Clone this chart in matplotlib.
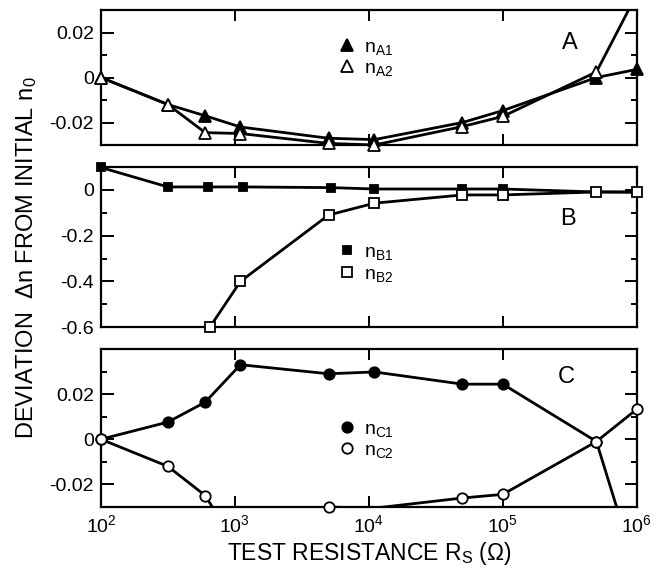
import numpy as np
import matplotlib.pyplot as plt
from matplotlib.ticker import FixedLocator, FixedFormatter, MultipleLocator, LogLocator, NullLocator

plt.rcParams['font.family'] = ['Liberation Sans', 'DejaVu Sans']
plt.rcParams['mathtext.fontset'] = 'custom'
plt.rcParams['mathtext.rm'] = 'Liberation Sans'
plt.rcParams['mathtext.it'] = 'Liberation Sans'

# test resistance values (ohm)
r_a = [100, 316, 600, 1100, 5000, 11000, 50000, 100000, 500000, 1000000]
r_b1 = [100, 316, 630, 1150, 5200, 11000, 50000, 100000, 500000, 1000000]
r_b2 = [650, 1100, 5000, 11000, 50000, 100000, 500000, 1000000]
r_c1 = [100, 316, 600, 1100, 5000, 11000, 50000, 100000, 500000, 1000000]
r_c2 = [100, 316, 600, 1100, 5000, 11000, 50000, 100000, 500000, 1000000]

# deviations from initial index
n_a1 = [0.0, -0.012, -0.017, -0.022, -0.027, -0.0276, -0.020, -0.0147, 0.0, 0.0036]
n_a2 = [0.0, -0.012, -0.0245, -0.0249, -0.0293, -0.030, -0.0218, -0.0173, 0.0025, 0.037]
n_b1 = [0.098, 0.013, 0.013, 0.013, 0.010, 0.004, 0.004, 0.004, -0.009, -0.009]
n_b2 = [-0.60, -0.40, -0.11, -0.058, -0.022, -0.022, -0.009, -0.010]
n_c1 = [0.0, 0.0076, 0.0164, 0.033, 0.029, 0.0298, 0.0244, 0.0244, -0.001, -0.059]
n_c2 = [0.0, -0.012, -0.0249, -0.050, -0.030, -0.0305, -0.026, -0.0244, -0.001, 0.0133]

fig = plt.figure(figsize=(6.64, 5.72), dpi=100)
L, W = 0.152, 0.807
ax_a = fig.add_axes([L, 0.7465, W, 0.236])
ax_b = fig.add_axes([L, 0.428, W, 0.280])
ax_c = fig.add_axes([L, 0.1136, W, 0.2764])


def series(ax, x, y, marker, filled, label, ylim, ms):
    x = np.asarray(x, float)
    y = np.asarray(y, float)
    ax.plot(x, y, color='black', lw=2.0, zorder=2)
    keep = (y >= ylim[0] - 1e-9) & (y <= ylim[1] + 1e-9)
    ax.plot(x[keep], y[keep], ls='none', marker=marker, ms=ms,
            mfc='black' if filled else 'white', mec='black', mew=1.3,
            clip_on=False, zorder=3, label=label)


def style(ax, ylim, major, labels, minor, letter, lpos):
    ax.set_xscale('log')
    ax.set_xlim(100, 1e6)
    ax.set_ylim(*ylim)
    ax.xaxis.set_major_locator(LogLocator(base=10, numticks=10))
    ax.xaxis.set_minor_locator(NullLocator())
    ax.yaxis.set_major_locator(FixedLocator(major))
    ax.yaxis.set_major_formatter(FixedFormatter(labels))
    ax.yaxis.set_minor_locator(MultipleLocator(minor))
    ax.tick_params(which='both', direction='in', top=True, right=True, width=1.4,
                   labelsize=14, pad=5)
    ax.tick_params(axis='x', which='major', length=8)
    ax.tick_params(axis='y', which='major', length=9)
    ax.tick_params(axis='y', which='minor', length=4.5)
    for s in ax.spines.values():
        s.set_linewidth(1.6)
    ax.text(lpos[0], lpos[1], letter, transform=ax.transAxes, fontsize=17,
            ha='center', va='center')


lim_a = (-0.03, 0.03)
lim_b = (-0.6, 0.1)
lim_c = (-0.03, 0.04)

series(ax_a, r_a, n_a1, '^', True, r'$\mathregular{n_{A1}}$', lim_a, 8)
series(ax_a, r_a, n_a2, '^', False, r'$\mathregular{n_{A2}}$', lim_a, 8)
series(ax_b, r_b1, n_b1, 's', True, r'$\mathregular{n_{B1}}$', lim_b, 6)
series(ax_b, r_b2, n_b2, 's', False, r'$\mathregular{n_{B2}}$', lim_b, 7.5)
series(ax_c, r_c1, n_c1, 'o', True, r'$\mathregular{n_{C1}}$', lim_c, 7.5)
series(ax_c, r_c2, n_c2, 'o', False, r'$\mathregular{n_{C2}}$', lim_c, 7.5)

style(ax_a, lim_a, [-0.02, 0, 0.02], ['-0.02', '0', '0.02'], 0.01, 'A', (0.875, 0.756))
style(ax_b, lim_b, [-0.6, -0.4, -0.2, 0], ['-0.6', '-0.4', '-0.2', '0'], 0.1, 'B', (0.871, 0.675))
style(ax_c, lim_c, [-0.02, 0, 0.02], ['-0.02', '0', '0.02'], 0.01, 'C', (0.869, 0.823))
ax_a.tick_params(axis='x', labelbottom=False)
ax_b.tick_params(axis='x', labelbottom=False)

for ax, y in [(ax_a, 0.85), (ax_b, 0.57), (ax_c, 0.60)]:
    ax.legend(loc='upper left', bbox_to_anchor=(0.43, y), frameon=False,
              handlelength=0.8, handletextpad=0.5, labelspacing=0.15,
              fontsize=14, borderaxespad=0)

ax_c.set_xlabel(r'TEST RESISTANCE R$_\mathregular{S}$ ($\Omega$)', fontsize=16.5, labelpad=3)
fig.text(0.04, 0.55, r'DEVIATION  $\Delta$n FROM INITIAL n$_\mathregular{0}$',
         rotation=90, fontsize=17, ha='center', va='center')

fig.savefig('out.png', dpi=100)
